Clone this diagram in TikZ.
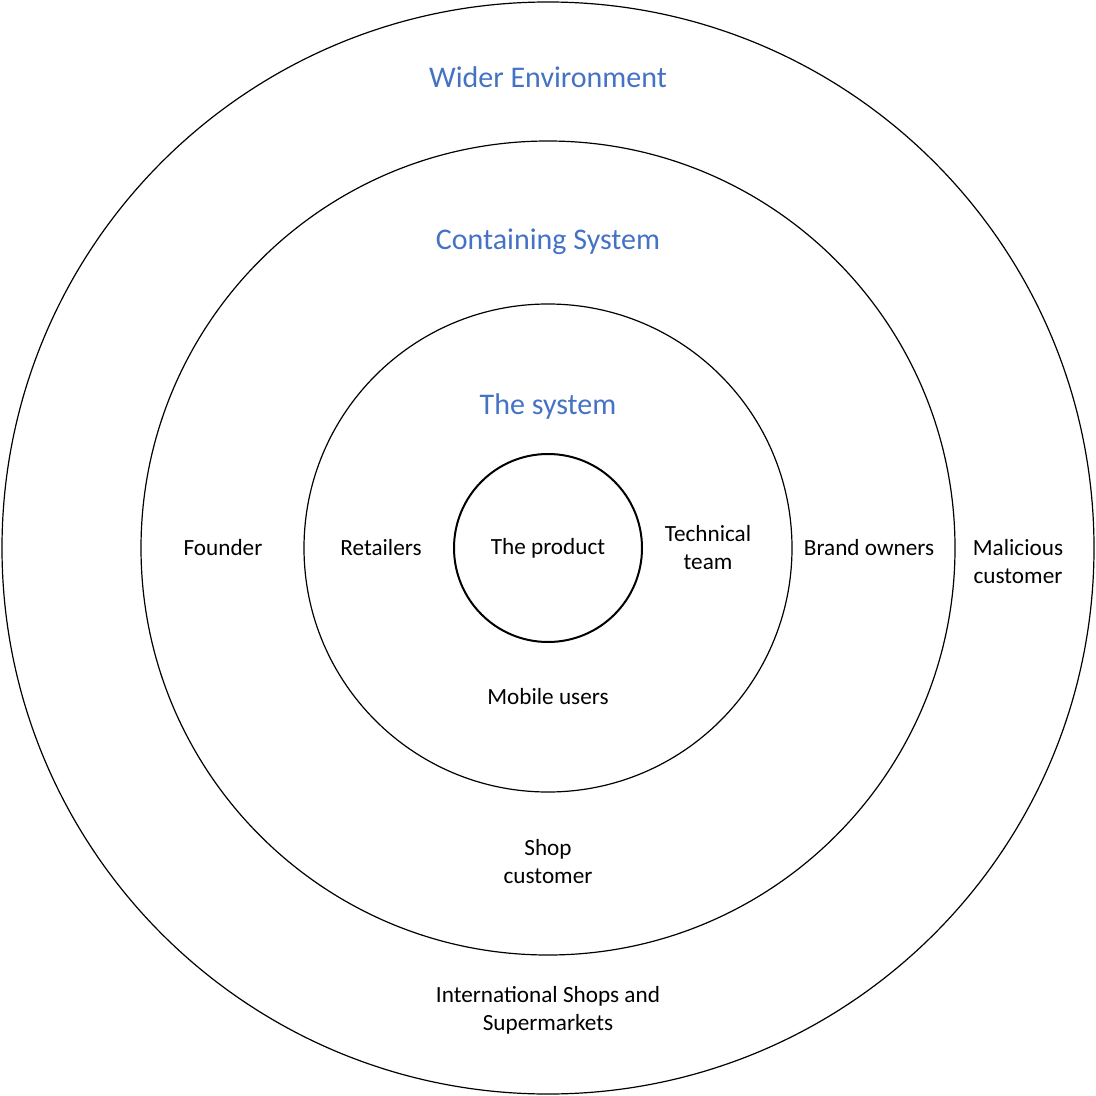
\documentclass[tikz,border=0pt]{standalone}
\usepackage{fontspec}
\setmainfont{Carlito}
\usetikzlibrary{positioning}
\definecolor{ringblue}{RGB}{68,114,196}
\tikzset{
  ring/.style={draw, line width=0.6pt},
  lbl/.style={align=center, font=\fontsize{11.6}{14}\selectfont, inner sep=0pt},
  title/.style={align=center, font=\fontsize{15}{18}\selectfont, text=ringblue, inner sep=0pt},
  core/.style={circle, draw, line width=1pt, minimum size=94pt, inner sep=0pt,
               font=\fontsize{11.6}{14}\selectfont},
}

\begin{document}
\begin{tikzpicture}[x=0.5pt, y=-0.5pt]
  \useasboundingbox (0,0) rectangle (1096,1096);
  \coordinate (c) at (548,548);

  % rings
  \draw[ring] (c) circle[radius=546];
  \draw[ring] (c) circle[radius=407];
  \draw[ring] (c) circle[radius=244];
  \node[core] (product) at (c) {The product};

  % titles
  \node[title] (wider) at (548,77) {Wider Environment};
  \node[title] (containing) at (548,242) {Containing System};
  \node[title] (system) at (548,407) {The system};

  % stakeholders
  \node[lbl] (founder) at (223,548) {Founder};
  \node[lbl] (retailers) at (381,548) {Retailers};
  \node[lbl] (tech) at (708,548) {Technical\\team};
  \node[lbl] (brand) at (869,548) {Brand owners};
  \node[lbl] (malicious) at (1018,562) {Malicious\\customer};
  \node[lbl] (mobile) at (548,697) {Mobile users};
  \node[lbl] (shop) at (548,862) {Shop\\customer};
  \node[lbl] (intl) at (548,1010) {International Shops and\\Supermarkets};
\end{tikzpicture}
\end{document}
